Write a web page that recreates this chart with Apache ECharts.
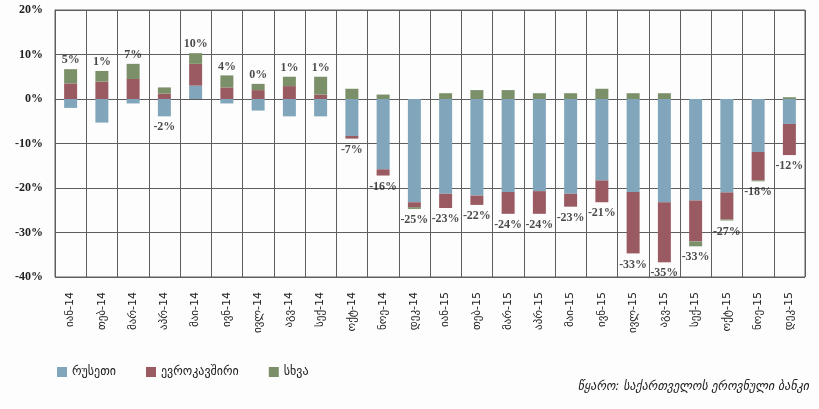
<!DOCTYPE html>
<html>
<head>
<meta charset="utf-8">
<script src="https://cdn.jsdelivr.net/npm/echarts@6/dist/echarts.min.js"></script>
<style>
  html, body { margin: 0; padding: 0; background: #fdfdfd; }
  #chart { width: 819px; height: 409px; }
</style>
</head>
<body>
<div id="chart"></div>
<script>
// თვეები
var categories = ['იან-14', 'თებ-14', 'მარ-14', 'აპრ-14', 'მაი-14', 'ივნ-14', 'ივლ-14', 'აგვ-14', 'სექ-14', 'ოქტ-14', 'ნოე-14', 'დეკ-14',
  'იან-15', 'თებ-15', 'მარ-15', 'აპრ-15', 'მაი-15', 'ივნ-15', 'ივლ-15', 'აგვ-15', 'სექ-15', 'ოქტ-15', 'ნოე-15', 'დეკ-15'];

var russia = [-2.0, -5.3, -1.0, -3.9, 3.0, -1.0, -2.6, -3.9, -3.9, -8.3, -15.8, -23.2,
  -21.3, -21.7, -20.9, -20.7, -21.3, -18.3, -20.9, -23.2, -22.8, -21.0, -11.9, -5.6];
var eu = [3.5, 3.9, 4.5, 1.2, 4.9, 2.6, 2.0, 2.9, 1.0, -0.6, -1.4, -1.1,
  -3.2, -2.1, -4.9, -5.1, -2.9, -4.9, -13.8, -13.5, -9.2, -6.1, -6.4, -7.0];
var other = [3.2, 2.4, 3.4, 1.4, 2.4, 2.7, 1.4, 2.1, 4.0, 2.3, 1.0, -0.4,
  1.3, 2.0, 2.0, 1.3, 1.3, 2.3, 1.3, 1.3, -1.1, -0.2, -0.2, 0.4];
// ჯამური ცვლილება (წარწერები)
var totals = [5, 1, 7, -2, 10, 4, 0, 1, 1, -7, -16, -25,
  -23, -22, -24, -24, -23, -21, -33, -35, -33, -27, -18, -12];

var yTicks = [-40, -30, -20, -10, 0, 10, 20];

// წარწერის ადგილი: დადებითი სვეტის თავი ან უარყოფითის ბოლო
var labelPos = totals.map(function (t, i) {
  var vals = [russia[i], eu[i], other[i]];
  var pos = 0, neg = 0;
  vals.forEach(function (v) { if (v >= 0) pos += v; else neg += v; });
  return t >= 0 ? pos : neg;
});

var chart = echarts.init(document.getElementById('chart'));

var serif = '"Liberation Serif", "DejaVu Serif", serif';
var geo = '"DejaVu Sans", "Noto Sans", sans-serif';
var lineColor = '#5e5e5e';

function barSeries(name, data, color) {
  return {
    name: name,
    type: 'bar',
    stack: 'total',
    barWidth: 13,
    data: data,
    itemStyle: { color: color }
  };
}

var option = {
  backgroundColor: '#fdfdfd',
  animation: false,
  grid: { left: 55, right: 14, top: 10, bottom: 132, show: true, borderColor: lineColor, borderWidth: 1 },
  legend: {
    data: ['რუსეთი', 'ევროკავშირი', 'სხვა'],
    left: 52,
    top: 361,
    icon: 'rect',
    itemWidth: 10,
    itemHeight: 10,
    itemGap: 30,
    textStyle: { fontFamily: geo, fontSize: 12, color: '#222' }
  },
  graphic: [{
    type: 'text',
    right: 10,
    top: 381,
    style: {
      text: 'წყარო: საქართველოს ეროვნული ბანკი',
      fontFamily: geo,
      fontStyle: 'italic',
      fontSize: 12,
      fill: '#222'
    }
  }],
  xAxis: {
    type: 'category',
    data: categories,
    axisTick: { show: false },
    axisLine: { show: true, lineStyle: { color: lineColor, width: 1 } },
    splitLine: { show: true, interval: 0, lineStyle: { color: lineColor, width: 1 } },
    axisLabel: {
      interval: 0,
      rotate: 90,
      margin: 15,
      fontFamily: geo,
      fontSize: 11,
      color: '#222'
    }
  },
  yAxis: {
    type: 'value',
    min: yTicks[0],
    max: yTicks[yTicks.length - 1],
    interval: 10,
    axisLine: { show: true, lineStyle: { color: lineColor } },
    axisTick: { show: false },
    splitLine: { lineStyle: { color: lineColor, width: 1 } },
    axisLabel: {
      formatter: '{value}%',
      margin: 12,
      fontFamily: serif,
      fontWeight: 'bold',
      fontSize: 12,
      color: '#222'
    }
  },
  series: [
    barSeries('რუსეთი', russia, '#81a5bb'),
    barSeries('ევროკავშირი', eu, '#9a5a62'),
    barSeries('სხვა', other, '#7b8f69'),
    {
      name: 'ჯამი',
      type: 'scatter',
      symbolSize: 0,
      silent: true,
      data: labelPos.map(function (v, i) {
        return {
          value: v,
          label: { position: totals[i] >= 0 ? 'top' : 'bottom', distance: totals[i] >= 0 ? 3 : 5 }
        };
      }),
      label: {
        show: true,
        formatter: function (p) { return totals[p.dataIndex] + '%'; },
        fontFamily: serif,
        fontWeight: 'bold',
        fontSize: 12,
        color: '#1a1a1a'
      }
    }
  ]
};

chart.setOption(option);
</script>
</body>
</html>
